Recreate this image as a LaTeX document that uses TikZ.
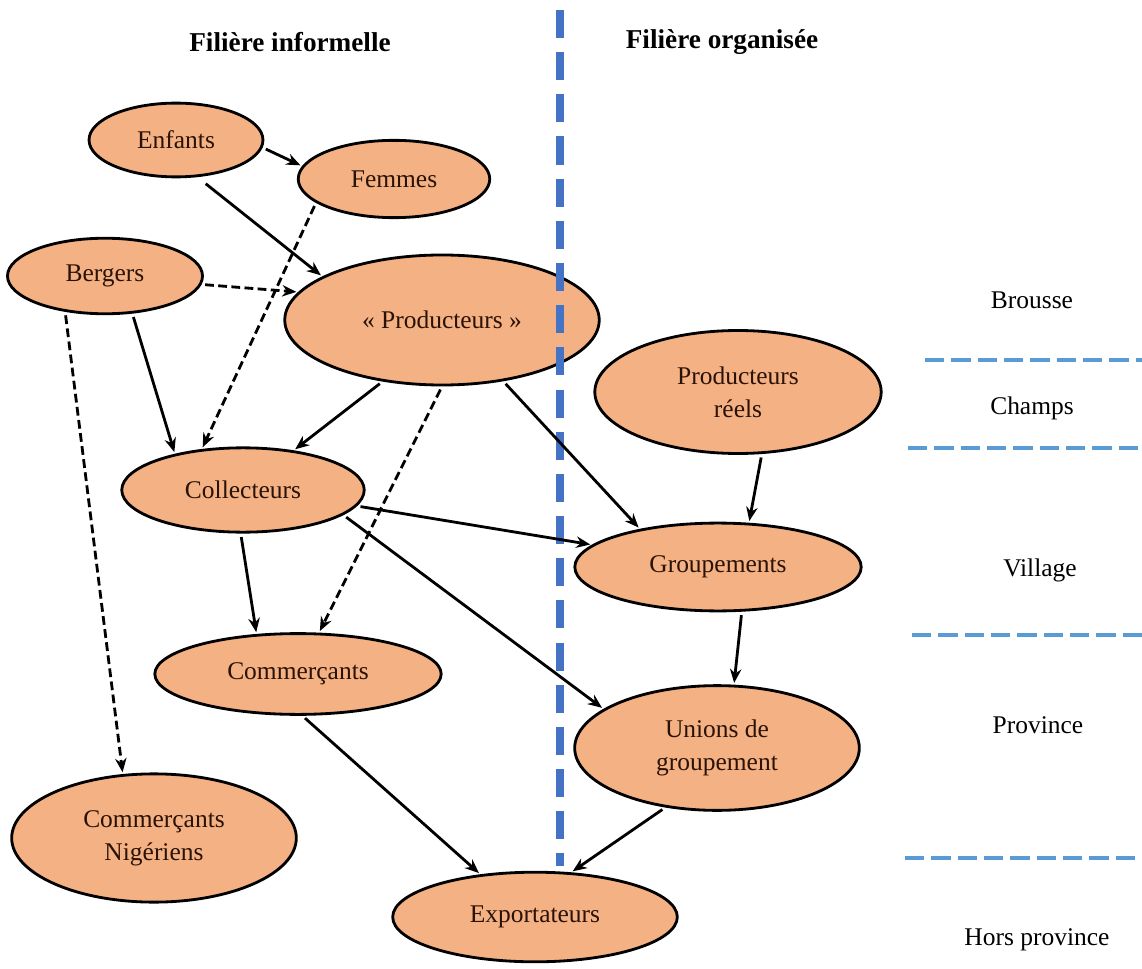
\documentclass[tikz,border=0pt]{standalone}
\usepackage{fontspec}
\setmainfont{Liberation Serif}
\newfontfamily\policeTimes{Liberation Serif}
\usepackage{tikz}
\usetikzlibrary{arrows.meta,shapes.geometric,positioning}
\definecolor{saumon}{HTML}{F4B183}
\definecolor{bleuFil}{HTML}{4472C4}
\definecolor{bleuNiv}{HTML}{5B9BD5}
\definecolor{brunTexte}{HTML}{2A1206}
\tikzset{>={Stealth[length=8pt,width=6.5pt]},
	acteur/.style={% Ellipses of the actors
		draw, ellipse,
		fill=saumon,
		line width=1.6pt,
		inner sep=0pt,
		text=brunTexte,
		align=center,
		font=\policeTimes\fontsize{14.5}{19}\selectfont
	},
	titre/.style={
		font=\policeTimes\fontsize{15.5}{18}\selectfont\bfseries
	},
	lieu/.style={
		font=\policeTimes\fontsize{14.5}{17}\selectfont
	},
	flux/.style={->, line width=1.6pt, shorten <=2pt, shorten >=1pt},
	fluxInf/.style={flux, dash pattern=on 5pt off 2.5pt},
	niveau/.style={bleuNiv, line width=2.2pt, dash pattern=on 11pt off 4pt}
}

\begin{document}
\begin{tikzpicture}[x=0.02cm, y=-0.02cm]
		\useasboundingbox (0,0) rectangle (1142,969);
		
		% Titles
		\node (TI) [titre] at (290,42) {Filière informelle};
		\node (TO) [titre] at (722,42) {Filière organisée};
		
		% Actors
		\node (Enfants) [acteur, minimum width=99pt, minimum height=42pt] at (176,140) {Enfants};
		\node (Femmes) [acteur, minimum width=109pt, minimum height=44pt] at (394,179) {Femmes};
		\node (Bergers) [acteur, minimum width=111pt, minimum height=43pt] at (105,276) {Bergers};
		\node (Prod) [acteur, minimum width=179pt, minimum height=74pt] at (442,320) {« Producteurs »};
		\node (ProdR) [acteur, minimum width=163pt, minimum height=70pt] at (738,392) {Producteurs\\réels};
		\node (Coll) [acteur, minimum width=138pt, minimum height=48pt] at (243,490) {Collecteurs};
		\node (Grp) [acteur, minimum width=163pt, minimum height=50pt] at (718,567) {Groupements};
		\node (Comm) [acteur, minimum width=163pt, minimum height=46pt] at (298,674) {Commerçants};
		\node (Unions) [acteur, minimum width=162pt, minimum height=71pt] at (717,748) {Unions de\\groupement};
		\node (Nig) [acteur, minimum width=162pt, minimum height=73pt] at (154,838) {Commerçants\\Nigériens};
		\node (Export) [acteur, minimum width=162pt, minimum height=51pt] at (535,917) {Exportateurs};
		
		% Levels
		\node (Brousse) [lieu] at (1032,300) {Brousse};
		\node (Champs) [lieu] at (1032,408) {Champs};
		\node (Village) [lieu] at (1040,570) {Village};
		\node (Province) [lieu] at (1038,725) {Province};
		\node (Hors) [lieu] at (1037,940) {Hors province};
		
		\draw [niveau] (925,360) -- (1142,360);
		\draw [niveau] (908,448) -- (1142,448);
		\draw [niveau] (912,635) -- (1142,635);
		\draw [niveau] (905,858) -- (1142,858);
		
		% Border between the two chains
		\draw [bleuFil, line width=4.5pt, dash pattern=on 16pt off 8pt] (560,10) -- (560,866);
		
		% Flows
		\draw [flux] (Enfants.-5) -- (Femmes.172);
		\draw [flux, shorten <=6pt] (Enfants.-60) -- (Prod.160);
		\draw [fluxInf] (Bergers.-5) -- (Prod.169);
		\draw [fluxInf] (Femmes.-163) -- (Coll.135);
		\draw [flux] (Bergers.-54) -- (Coll.152);
		\draw [fluxInf] (Bergers.-138) -- (Nig.116);
		\draw [flux] (Prod.-134) -- (Coll.38);
		\draw [fluxInf] (Prod.-90) -- (Comm.63);
		\draw [flux] (Prod.-45) -- (Grp.154);
		\draw [flux] (ProdR.-69) -- (Grp.55);
		\draw [flux] (Coll.-8) -- (Grp.170);
		\draw [flux] (Coll.-93) -- (Comm.136);
		\draw [flux] (Coll.-14) -- (Unions.161);
		\draw [flux] (Grp.-62) -- (Unions.75);
		\draw [flux] (Comm.-84) -- (Export.142);
		\draw [flux] (Unions.-131) -- (Export.51);
	\end{tikzpicture}
\end{document}
